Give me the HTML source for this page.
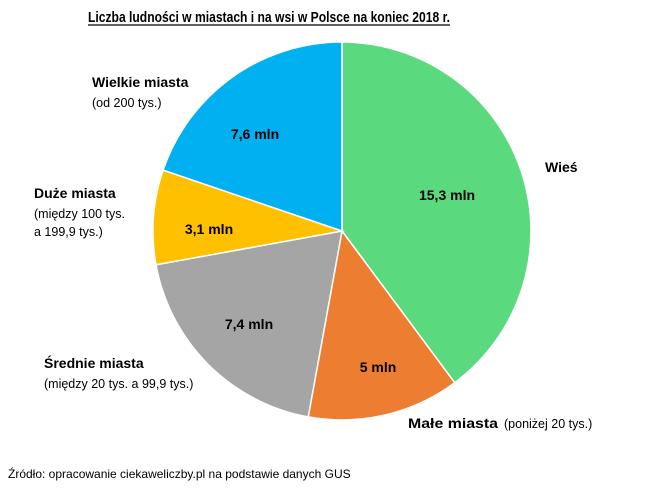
<!DOCTYPE html><html><head><meta charset="utf-8"><style>body{margin:0;background:#fff}svg{display:block;font-family:"Liberation Sans",sans-serif}</style></head><body>
<svg width="666" height="492" viewBox="0 0 666 492">
<text x="88" y="22" font-size="14.5" font-weight="bold" textLength="362" lengthAdjust="spacingAndGlyphs">Liczba ludności w miastach i na wsi w Polsce na koniec 2018 r.</text>
<line x1="88" y1="25" x2="450" y2="25" stroke="#000" stroke-width="1.2"/>
<g stroke="#fff" stroke-width="1.5">
<path d="M342,231 L342,42 A189,189 0 0 1 454.7,382.7 Z" fill="#5BD97F"/>
<path d="M342,231 L454.7,382.7 A189,189 0 0 1 308.2,416.9 Z" fill="#ED7D31"/>
<path d="M342,231 L308.2,416.9 A189,189 0 0 1 156,264.8 Z" fill="#A5A5A5"/>
<path d="M342,231 L156,264.8 A189,189 0 0 1 163.1,170.1 Z" fill="#FFC000"/>
<path d="M342,231 L163.1,170.1 A189,189 0 0 1 342,42 Z" fill="#00B0F0"/>
</g>
<g font-weight="bold" font-size="14">
<text x="447" y="200" text-anchor="middle">15,3 mln</text>
<text x="378" y="372" text-anchor="middle">5 mln</text>
<text x="249" y="329" text-anchor="middle">7,4 mln</text>
<text x="209" y="234" text-anchor="middle">3,1 mln</text>
<text x="255" y="139" text-anchor="middle">7,6 mln</text>
<text x="545" y="172">Wieś</text>
<text x="408" y="428" textLength="90" lengthAdjust="spacingAndGlyphs">Małe miasta</text>
<text x="44" y="368">Średnie miasta</text>
<text x="34" y="198">Duże miasta</text>
<text x="92" y="87">Wielkie miasta</text>
</g>
<g font-size="12.5">
<text x="504" y="428">(poniżej 20 tys.)</text>
<text x="44" y="388">(między 20 tys.  a 99,9 tys.)</text>
<text x="34" y="218">(między 100 tys.</text>
<text x="34" y="236">a 199,9 tys.)</text>
<text x="92" y="107">(od 200 tys.)</text>
<text x="8" y="478" font-size="12">Źródło: opracowanie ciekaweliczby.pl na podstawie danych GUS</text>
</g>
</svg></body></html>
